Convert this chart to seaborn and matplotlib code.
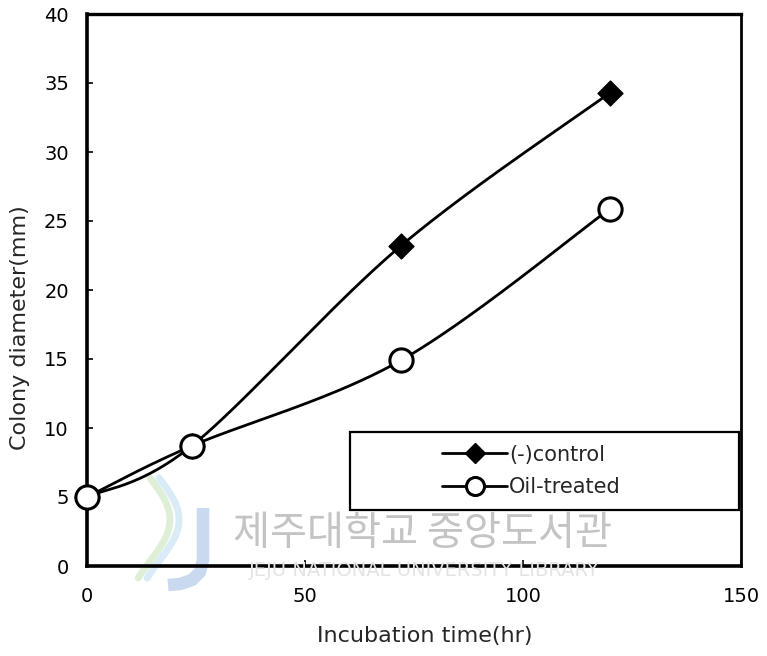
import numpy as np
import pandas as pd
import matplotlib
matplotlib.use("Agg")
import matplotlib.pyplot as plt
from matplotlib.patches import Rectangle
from matplotlib.lines import Line2D
import seaborn as sns

# Colony growth measurements
hours = [0, 24, 72, 120]
control_mm = [5.0, 8.7, 23.2, 34.3]
oil_mm = [5.0, 8.7, 14.9, 25.9]
series_names = ["(-)control", "Oil-treated"]
x_ticks = [0, 50, 100, 150]
y_ticks = [0, 5, 10, 15, 20, 25, 30, 35, 40]

X_MAX, Y_MAX = 150, 40

sns.set_theme(style="white")
plt.rcParams["font.family"] = ["DejaVu Sans"]

fig = plt.figure(figsize=(7.67, 6.56), dpi=100)
ax = fig.add_axes([87 / 767, 1 - 566 / 656, 654 / 767, 552 / 656])
W, H = 654.0, 552.0


def smooth_curve(xs, ys, n=60):
    """Bezier smoothing through the points (Catmull-Rom style) in screen proportions."""
    px = np.asarray(xs, float) / X_MAX * W
    py = np.asarray(ys, float) / Y_MAX * H
    pts = np.column_stack([px, py])
    out = []
    for i in range(len(pts) - 1):
        p0 = pts[i - 1] if i > 0 else pts[i]
        p1, p2 = pts[i], pts[i + 1]
        p3 = pts[i + 2] if i + 2 < len(pts) else pts[i + 1]
        c1 = p1 + (p2 - p0) / 6.0
        c2 = p2 - (p3 - p1) / 6.0
        t = np.linspace(0, 1, n)[:, None]
        seg = ((1 - t) ** 3) * p1 + 3 * ((1 - t) ** 2) * t * c1 + 3 * (1 - t) * t ** 2 * c2 + t ** 3 * p2
        out.append(seg if i == 0 else seg[1:])
    out = np.vstack(out)
    return out[:, 0] / W * X_MAX, out[:, 1] / H * Y_MAX


rows = []
for name, ys in zip(series_names, [control_mm, oil_mm]):
    sx, sy = smooth_curve(hours, ys)
    rows.append(pd.DataFrame({"t": sx, "d": sy, "series": name}))
curves = pd.concat(rows, ignore_index=True)
points = pd.DataFrame({
    "t": hours * 2,
    "d": control_mm + oil_mm,
    "series": [series_names[0]] * len(hours) + [series_names[1]] * len(hours),
})

# Faint library watermark behind the data
fig.text(422 / 767, 1 - 534 / 656, "제주대학교 중앙도서관", ha="center", va="center",
         fontsize=29, color="#c4c4c4", family=["Noto Sans CJK KR", "DejaVu Sans"], zorder=0)
fig.text(424 / 767, 1 - 570 / 656, "JEJU NATIONAL UNIVERSITY LIBRARY", ha="center", va="center",
         fontsize=14, color="#e4e4e4", zorder=0)
jx = np.array([203, 203, 200, 192, 180, 168]) / 767
jy = 1 - np.array([508, 560, 572, 580, 584, 585]) / 656
fig.add_artist(Line2D(jx, jy, color="#9dbbe3", lw=9, alpha=0.55, solid_capstyle="butt", zorder=0))
for dx, col in [(0, "#b9dca8"), (9, "#a9d3ee")]:
    t = np.linspace(0, 1, 40)
    sx = (150 + dx + 20 * np.sin(t * np.pi * 1.2)) / 767
    sy = 1 - (478 + t * 100) / 656
    fig.add_artist(Line2D(sx, sy, color=col, lw=5, alpha=0.45, zorder=0))
ax.patch.set_alpha(0)

for name in series_names:
    sub = curves[curves["series"] == name]
    sns.lineplot(data=sub, x="t", y="d", sort=False, color="black", linewidth=2.0,
                 legend=False, ax=ax, zorder=3)

sns.scatterplot(data=points[points["series"] == series_names[0]], x="t", y="d",
                marker="D", s=160, color="black", edgecolor="black", linewidth=1.0,
                legend=False, ax=ax, zorder=5, clip_on=False)
sns.scatterplot(data=points[points["series"] == series_names[1]], x="t", y="d",
                marker="o", s=280, color="white", edgecolor="black", linewidth=2.2,
                legend=False, ax=ax, zorder=6, clip_on=False)

ax.set_xlim(0, X_MAX)
ax.set_ylim(0, Y_MAX)
ax.set_xticks(x_ticks)
ax.set_yticks(y_ticks)
ax.tick_params(axis="both", direction="in", length=4, width=1.2, labelsize=14,
               colors="black", left=True, bottom=True)
ax.tick_params(axis="x", pad=15)
ax.tick_params(axis="y", pad=13)
ax.set_xlabel("Incubation time(hr)", fontsize=16)
ax.set_ylabel("Colony diameter(mm)", fontsize=16)
ax.xaxis.set_label_coords((425 - 87) / W, -(636 - 566) / H)
ax.yaxis.set_label_coords(-(87 - 20) / W, (566 - 328) / H)
ax.xaxis.label.set_va("center")
ax.yaxis.label.set_va("center")
for side, lw in [("left", 2.6), ("bottom", 2.6), ("top", 2.4), ("right", 2.0)]:
    ax.spines[side].set_color("black")
    ax.spines[side].set_linewidth(lw)
    ax.spines[side].set_visible(True)

# Legend box
box_x0, box_x1 = (350 - 87) / W, (739 - 87) / W
box_y0, box_y1 = (566 - 510) / H, (566 - 432) / H
ax.add_patch(Rectangle((box_x0, box_y0), box_x1 - box_x0, box_y1 - box_y0,
                       transform=ax.transAxes, facecolor="white", edgecolor="black",
                       linewidth=1.6, zorder=7))
handles = [
    Line2D([], [], color="black", lw=2.0, marker="D", markersize=10, markerfacecolor="black"),
    Line2D([], [], color="black", lw=2.0, marker="o", markersize=13, markerfacecolor="white",
           markeredgewidth=2.2),
]
leg = ax.legend(handles, series_names, loc="center",
                bbox_to_anchor=((box_x0 + box_x1) / 2 - 0.02, (box_y0 + box_y1) / 2),
                frameon=False, fontsize=15, handlelength=3.1, handletextpad=0.1,
                labelspacing=0.6, borderpad=0)
leg.set_zorder(8)

fig.savefig("out.png", dpi=100)
